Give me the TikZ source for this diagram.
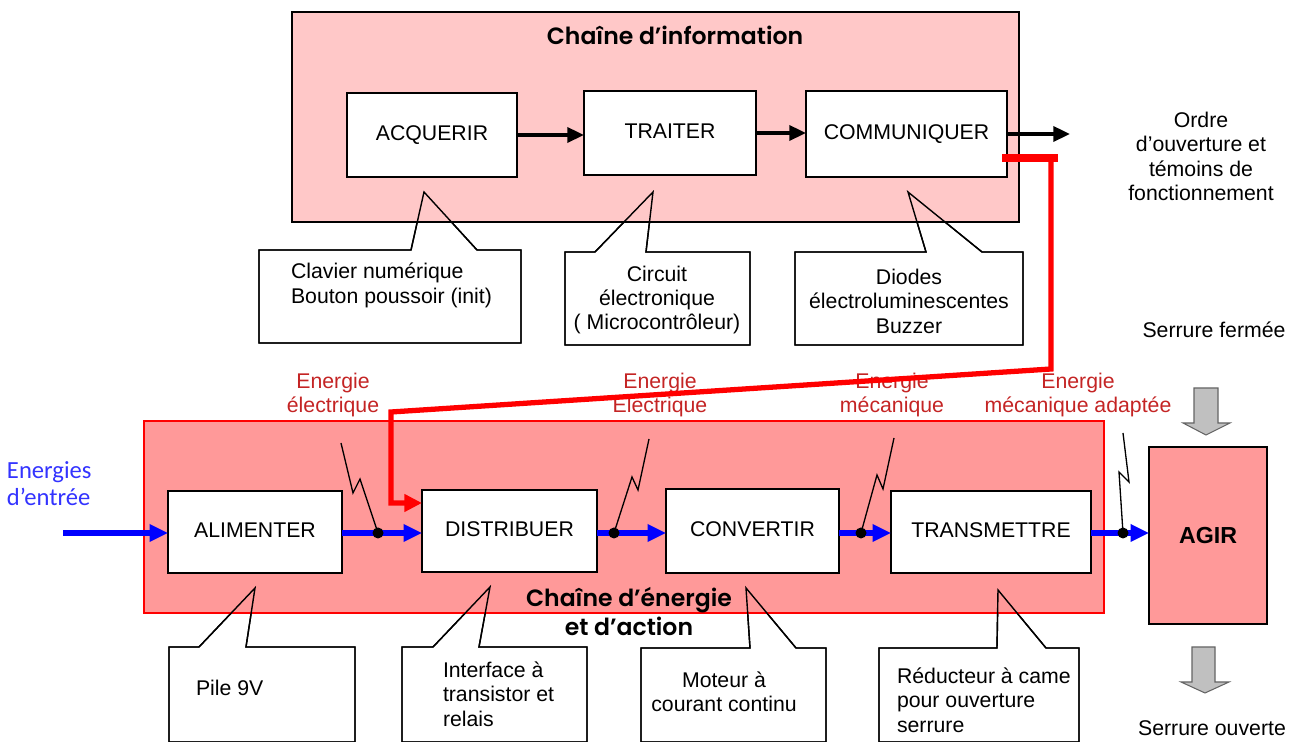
\documentclass[tikz,border=0pt]{standalone}
\usepackage{fontspec}
\setmainfont{Liberation Sans}
\newfontfamily\titlefont{Poppins}[BoldFont={* SemiBold}]
\newfontfamily\calibrifont{Carlito}
\usetikzlibrary{arrows.meta}

\definecolor{pinkinfo}{RGB}{255,200,200}
\definecolor{pinkenergy}{RGB}{255,153,153}
\definecolor{labelred}{RGB}{196,36,36}
\definecolor{linkred}{RGB}{255,0,0}
\definecolor{flowblue}{RGB}{0,0,255}
\definecolor{textblue}{RGB}{51,51,255}
\definecolor{blockgrey}{RGB}{192,192,192}
\definecolor{blockgreyline}{RGB}{100,100,100}

% speech-bubble outline: box corners, pointer base (left/right x), pointer tip
\newcommand\calloutshape[8]{(#1,#2) -- (#5,#2) -- (#7,#8) -- (#6,#2) -- (#3,#2) -- (#3,#4) -- (#1,#4) -- cycle}

\begin{document}
\begin{tikzpicture}[x=0.2mm,y=-0.2mm,
  every node/.style={inner sep=0pt,outer sep=0pt},
  sz/.style 2 args={minimum width=#1*0.2mm,minimum height=#2*0.2mm},
  bodyfont/.style={font=\fontsize{12.1}{13.9}\selectfont},
  blockbox/.style={draw=black,line width=0.8pt,fill=white,bodyfont,text height=8.8pt,text depth=2.6pt},
  bubble/.style={draw=black,line width=0.8pt,line join=miter},
  bubbletext/.style={bodyfont,text=black},
  infoarrow/.style={draw=black,line width=2.1pt,-{Triangle[length=9.5pt,width=8.5pt]}},
  flow/.style={draw=flowblue,line width=3.1pt,-{Triangle[length=10.5pt,width=9.5pt]}},
  redlink/.style={draw=linkred,line width=3pt,line join=miter},
  bolt/.style={draw=black,line width=0.75pt},
  energylabel/.style={bodyfont,text=labelred,align=center},
  greyarrow/.style={fill=blockgrey,draw=blockgreyline,line width=0.6pt},
  chaintitle/.style={font=\titlefont\bfseries\fontsize{13.4}{16.5}\selectfont,align=center}
]
\useasboundingbox (0,0) rectangle (1300,742);

% callout bubbles, white body
\foreach \a/\b/\c/\d/\e/\f/\g/\h in {
  259/250/521/343/411/477/424/192,
  565/252/750/345/595/646/653/192,
  795/252/1023/345/926/982/908/192,
  169/647/355/742/199/246/255/588,
  402/647/587/742/433/479/490/587,
  641/648/826/742/750/796/746/588,
  879/648/1079/742/997/1046/998/590}
  \path[bubble,fill=white] \calloutshape{\a}{\b}{\c}{\d}{\e}{\f}{\g}{\h};

% the two chains
\node[draw=black,line width=0.8pt,fill=pinkinfo,sz={727}{210}] (info) at (655.5,117) {};
\node[draw=red,line width=0.6pt,fill=pinkenergy,sz={960}{192}] (energy) at (624,517) {};

% bubble pointers stay visible over the chains
\foreach \a/\b/\c/\d/\e/\f/\g/\h in {
  259/250/521/343/411/477/424/192,
  565/252/750/345/595/646/653/192,
  795/252/1023/345/926/982/908/192,
  169/647/355/742/199/246/255/588,
  402/647/587/742/433/479/490/587,
  641/648/826/742/750/796/746/588,
  879/648/1079/742/997/1046/998/590}
  \path[bubble] \calloutshape{\a}{\b}{\c}{\d}{\e}{\f}{\g}{\h};

% chain titles
\node[chaintitle] (infotitle) at (675,35) {Chaîne d’information};
\node[chaintitle] (energytitle) at (629,612) {Chaîne d’énergie\\et d’action};

% information chain
\node[blockbox,sz={170}{84}] (acq) at (432,135) {ACQUERIR};
\node[blockbox,sz={172}{84}] (trait) at (670,133) {TRAITER};
\node[blockbox,sz={201}{86}] (comm) at (906.5,134) {COMMUNIQUER};

% energy chain
\node[blockbox,sz={174}{82}] (alim) at (255,532) {ALIMENTER};
\node[blockbox,sz={175}{82}] (dist) at (509.5,531) {DISTRIBUER};
\node[blockbox,sz={173}{84}] (conv) at (752.5,531) {CONVERTIR};
\node[blockbox,sz={200}{82}] (trans) at (991,532) {TRANSMETTRE};
\node[draw=black,line width=0.8pt,fill=pinkenergy,sz={118}{177},
      font=\bfseries\fontsize{13.2}{15}\selectfont] (agir) at (1208,535.5) {AGIR};

% information flow
\coordinate (ordre) at (1070,136);
\draw[infoarrow] (acq.east) -- (acq.east -| trait.west);
\draw[infoarrow] (trait.east) -- (trait.east -| comm.west);
\draw[infoarrow] (comm.east) -- (ordre |- comm.east);

% energy flow
\coordinate (entree) at (63,533);
\draw[flow] (entree) -- (entree -| alim.west);
\draw[flow] (alim.east |- entree) -- (dist.west |- entree);
\draw[flow] (dist.east |- entree) -- (conv.west |- entree);
\draw[flow] (conv.east |- entree) -- (trans.west |- entree);
\draw[flow] (trans.east |- entree) -- (agir.west |- entree);

% energy taps
\coordinate (tap1) at (378,533);
\coordinate (tap2) at (614,533);
\coordinate (tap3) at (861,533);
\coordinate (tap4) at (1123,533);
\draw[bolt] (tap1) -- (360,479) -- (353,493) -- (341,443);
\draw[bolt] (tap2) -- (632,477) -- (638,490) -- (649,439);
\draw[bolt] (tap3) -- (877,475) -- (883,489) -- (894,438);
\draw[bolt] (tap4) -- (1119,472) -- (1129,482) -- (1123,433);
\foreach \t in {tap1,tap2,tap3,tap4}
  \fill[black] (\t) circle[radius=1.1mm];

% bubble texts
\node[bubbletext,align=left,anchor=west] (t1) at (291,285.5) {Clavier numérique\\Bouton poussoir (init)};
\node[bubbletext,align=center] (t2) at (657,300) {Circuit\\électronique\\( Microcontrôleur)};
\node[bubbletext,align=center] (t3) at (909,301) {Diodes\\électroluminescentes\\Buzzer};
\node[bubbletext,align=left,anchor=west] (t4) at (196,688) {Pile 9V};
\node[bubbletext,align=left,anchor=west] (t5) at (443,694) {Interface à\\transistor et\\relais};
\node[bubbletext,align=center] (t6) at (724,692) {Moteur à\\courant continu};
\node[bubbletext,align=left,anchor=west] (t7) at (897,700) {Réducteur à came\\pour ouverture\\serrure};

% energy labels
\node[energylabel] (e1) at (333,395) {Energie\\électrique};
\node[energylabel] (e2) at (660,395) {Energie\\Electrique};
\node[energylabel] (e3) at (892,395) {Energie\\mécanique};
\node[energylabel] (e4) at (1078,395) {Energie\\mécanique adaptée};
\node[font=\calibrifont\fontsize{14}{15.5}\selectfont,text=textblue,align=left,anchor=west] (ein) at (7,484) {Energies\\d’entrée};

% outputs
\node[bodyfont,align=center] (sortie) at (1201,156.5) {Ordre\\d’ouverture et\\témoins de\\fonctionnement};
\node[bodyfont] (ferme) at (1214,330) {Serrure fermée};
\node[bodyfont] (ouvert) at (1212,728) {Serrure ouverte};

% order link to the distributor
\coordinate (r0) at (1002,158);
\coordinate (r1) at (1058,158);
\coordinate (r2) at (1051,158);
\coordinate (r3) at (1051,369);
\coordinate (r4) at (391,412);
\coordinate (r5) at (391,503);
\draw[redlink,line width=4pt] (r0) -- (r1);
\draw[redlink,-{Triangle[length=10pt,width=9.6pt]}] (r2) -- (r3) -- (r4) -- (r5) -- (r5 -| dist.west);

% lock state arrows
\path[greyarrow] (1194,388) -- (1218,388) -- (1218,423) -- (1230,423) -- (1206,435) -- (1183,423) -- (1194,423) -- cycle;
\path[greyarrow] (1192,647) -- (1215,647) -- (1215,682) -- (1229,682) -- (1205,693) -- (1181,682) -- (1192,682) -- cycle;
\end{tikzpicture}
\end{document}
